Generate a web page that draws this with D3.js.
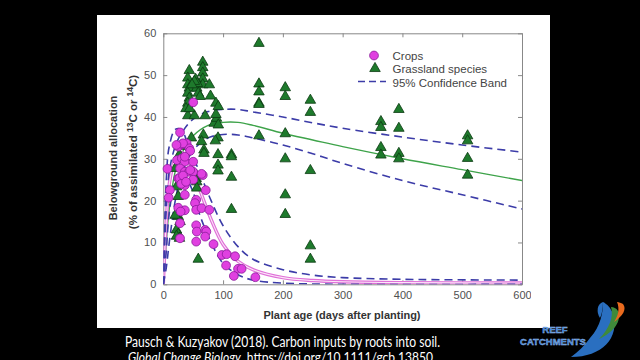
<!DOCTYPE html>
<html><head><meta charset="utf-8">
<script src="https://cdn.jsdelivr.net/npm/d3@7"></script>
<style>
html,body{margin:0;padding:0;background:#000;}
svg{display:block;}
</style></head>
<body>
<svg id="c" width="640" height="360"></svg>
<script>
// ---- data ----
const xTicks = [0,100,200,300,400,500,600];
const yTicks = [0,10,20,30,40,50,60];
const crops = [[7,27.6],[11,22.5],[9,20.7],[28,36.3],[25,32.9],[32,33.5],[39,33.7],[43.5,32.5],[23,29.7],[31,30.1],[36,29.3],[28,27.7],[36,26.9],[43,26.9],[50,26.9],[50,29.3],[66,26.1],[25,25.3],[36,23.7],[36,21.4],[25,18.3],[36,17.7],[29,17.4],[28,14.6],[28,11],[50,43.5],[71,22.5],[55,20.2],[53,19.4],[55,17.8],[64,18.2],[77,17.8],[55,14.1],[56,12.6],[70,13],[72,12.6],[70,11.4],[55,10.2],[84,9.6],[98,7],[106,7.2],[105,4.5],[120,6.7],[125,3.7],[131,3.7],[118,2],[154,1.7],[45,31.9],[33,33.7],[22,33.3],[36,30.5],[27,25.4],[45,27.3],[50,25],[64,26.4],[33,26],[30,24],[38,24.5]];
const grassland = [[20,27.7],[22,23.3],[25,21],[25,16.2],[28,15],[22,13],[25,12],[22,11.5],[27,11],[20,16.5],[27,31],[32,33],
[47,35],[67,35.7],[64,34.1],[68,32.1],[68,31.3],[55,26.1],[55,25.3],[56,24.5],[56,23],[58.5,6],
[91.5,35],[87,34.3],[91.5,31],[91.5,28.5],[91.5,27.1],[114,31],[114,30.5],[114,25.6],[114,17.9],[85,38.5],[89,39.7],[88,40.6],[92,38.1],
[43.5,51.1],[66,53.1],[66,51.8],[66,50.5],[66,49.1],[66,47.7],[41,49.3],[41,47.7],[43.5,46.9],[41,45.7],[43.5,44.5],[41,43.3],[41,40.3],[52,40.3],[56,46.9],[58.5,45.7],[61.4,44.9],[77,47.7],[79,45],[88,43.3],[92,42.5],[70,40.3],[54,49],[57,48],[38,42],[44,42],[52,48.5],[48,47.7],
[160,57.6],[160,47.9],[160,46],[160,43.3],[160,43],[160,35.5],[204,47],[204,44.9],[204,36],[204,30],[204,21.4],[204,16.7],[246,44],[246,41.1],[246,27.2],[246,9.2],[246,6],[364,38.9],[364,37.5],[364,32.7],[364,30.9],[394,41.8],[394,37.3],[394,31.3],[394,30],[509,35.5],[509,34.3],[509,30.1],[509,26.1]];
const cropFit = [[0,0],[5,15],[10,24],[20,30],[30,31.5],[40,30],[50,27],[60,23],[80,15.5],[100,9.5],[125,5.5],[150,3.5],[200,1.6],[250,0.9],[300,0.6],[400,0.4],[600,0.3]];
const cropUpper = [[0,0],[5,25],[10,33],[20,37],[30,37],[40,34],[60,27],[80,20],[100,14],[125,9],[150,6],[200,3.5],[250,2.2],[300,1.6],[400,1.2],[600,1]];
const cropLower = [[0,0],[5,8],[10,17],[20,25],[30,27],[40,25],[50,22],[60,17],[80,10],[100,5],[125,2.3],[150,1],[200,0.3],[300,0],[600,0]];
const grassFit = [[0,0],[5,10],[10,18],[20,27],[30,31],[50,35.5],[75,38],[100,38.7],[125,38.7],[150,38],[200,36.1],[250,34.5],[300,32.9],[400,30],[500,27.4],[600,24.8]];
const grassUpper = [[0,0],[5,18],[10,27],[20,33],[30,36],[50,39.5],[75,41.3],[100,41.8],[125,41.8],[150,41.2],[200,40],[250,38.6],[300,37.3],[400,35.2],[500,33.3],[600,31.6]];
const grassLower = [[0,0],[5,4],[10,10],[20,20],[30,26],[50,32],[75,35],[100,35.8],[125,35.7],[150,35],[200,33.3],[250,31.2],[300,28.9],[400,24.8],[500,21.4],[600,18]];
const legendItems = ["Crops","Grassland species","95% Confidence Band"];

// ---- drawing ----
const svg = d3.select("#c");
svg.append("rect").attr("width",640).attr("height",360).attr("fill","#000");
svg.append("rect").attr("x",97).attr("y",15).attr("width",453).attr("height",313).attr("fill","#fff");

const x = d3.scaleLinear().domain([0,600]).range([163.3,522]);
const y = d3.scaleLinear().domain([0,60]).range([284.3,33.3]);
const font = "'Liberation Sans', Arial, sans-serif";

svg.append("clipPath").attr("id","panel").append("rect").attr("x",97).attr("y",15).attr("width",434).attr("height",313);
svg.append("clipPath").attr("id","plot").append("rect").attr("x",163.3).attr("y",33.3).attr("width",522-163.3).attr("height",284.3-33.3);

const g = svg.append("g").attr("clip-path","url(#panel)");

function styleAxis(sel){
  sel.selectAll("path").attr("stroke","#888").attr("stroke-width",1);
  sel.selectAll("line").attr("stroke","#888");
  sel.selectAll("text").attr("fill","#505050").attr("font-family",font).attr("font-size",11);
}
g.append("g").attr("transform","translate(0,284.3)")
  .call(d3.axisBottom(x).tickValues(xTicks).tickSize(-4).tickPadding(7).tickSizeOuter(0)).call(styleAxis);
g.append("g").attr("transform","translate(163.3,0)")
  .call(d3.axisLeft(y).tickValues(yTicks).tickSize(-4).tickPadding(7).tickSizeOuter(0)).call(styleAxis);
g.append("g").attr("transform","translate(0,33.3)")
  .call(d3.axisTop(x).tickValues(xTicks).tickSize(-4).tickFormat("").tickSizeOuter(0)).call(styleAxis);
g.append("g").attr("transform","translate(522,0)")
  .call(d3.axisRight(y).tickValues(yTicks).tickSize(-4).tickFormat("").tickSizeOuter(0)).call(styleAxis);

const p = g.append("g").attr("clip-path","url(#plot)");
const line = d3.line().x(d=>x(d[0])).y(d=>y(d[1])).curve(d3.curveCatmullRom.alpha(0.5));

p.append("path").datum(grassFit).attr("d",line).attr("fill","none").attr("stroke","#3ea34a").attr("stroke-width",1.4);
p.append("path").datum(cropFit).attr("d",line).attr("fill","none").attr("stroke","#e070d8").attr("stroke-width",3.4);
p.append("path").datum(cropFit).attr("d",line).attr("fill","none").attr("stroke","#fbe6f8").attr("stroke-width",1.1);
[cropUpper,cropLower,grassUpper,grassLower].forEach(b=>{
  p.append("path").datum(b).attr("d",line).attr("fill","none").attr("stroke","#3c3ca8")
   .attr("stroke-width",1.6).attr("stroke-dasharray","8,5");
});

const tri = d3.symbol().type(d3.symbolTriangle).size(48);
g.append("g").selectAll("path").data(grassland).join("path")
  .attr("d",tri).attr("transform",d=>`translate(${x(d[0])},${y(d[1])})`)
  .attr("fill","#1e7a2c").attr("stroke","#0b3a12").attr("stroke-width",0.8);
g.append("g").selectAll("circle").data(crops).join("circle")
  .attr("cx",d=>x(d[0])).attr("cy",d=>y(d[1])).attr("r",4.4)
  .attr("fill","#e040e0").attr("stroke","#8a1c9a").attr("stroke-width",0.8);

// legend
const lg = svg.append("g");
const ly = [56,69.5,83];
lg.append("circle").attr("cx",374).attr("cy",ly[0]-0.5).attr("r",4.4).attr("fill","#e040e0").attr("stroke","#8a1c9a").attr("stroke-width",0.8);
lg.append("path").attr("d",tri).attr("transform",`translate(375,${ly[1]-1})`).attr("fill","#1e7a2c").attr("stroke","#0b3a12").attr("stroke-width",0.8);
lg.append("line").attr("x1",358).attr("x2",386).attr("y1",ly[2]-1.5).attr("y2",ly[2]-1.5).attr("stroke","#3c3ca8").attr("stroke-width",1.6).attr("stroke-dasharray","7,4");
lg.selectAll("text").data(legendItems).join("text")
  .attr("x",392.5).attr("y",(d,i)=>ly[i]+3.5).text(d=>d)
  .attr("font-family",font).attr("font-size",11.5).attr("fill","#444");

// axis titles
svg.append("text").attr("x",342).attr("y",319).attr("text-anchor","middle")
  .attr("font-family",font).attr("font-size",11).attr("font-weight","bold").attr("fill","#333")
  .text("Plant age (days after planting)");
svg.append("text").attr("transform","translate(117,158) rotate(-90)").attr("text-anchor","middle")
  .attr("font-family",font).attr("font-size",11).attr("font-weight","bold").attr("fill","#333")
  .text("Belowground allocation");
const yt2 = svg.append("text").attr("transform","translate(137,152) rotate(-90)").attr("text-anchor","middle")
  .attr("font-family",font).attr("font-size",11.5).attr("font-weight","bold").attr("fill","#333");
yt2.append("tspan").text("(% of assimilated ");
yt2.append("tspan").attr("font-size",8.5).attr("dy",-4.5).text("13");
yt2.append("tspan").attr("dy",4.5).text("C or ");
yt2.append("tspan").attr("font-size",8.5).attr("dy",-4.5).text("14");
yt2.append("tspan").attr("dy",4.5).text("C)");

// caption
svg.append("text").attr("x",125).attr("y",347).attr("font-family","Lato, 'Open Sans', sans-serif").attr("font-size",14.5).attr("fill","#fff")
  .attr("textLength",315).attr("lengthAdjust","spacingAndGlyphs")
  .text("Pausch & Kuzyakov (2018). Carbon inputs by roots into soil.");
const c2 = svg.append("text").attr("x",128).attr("y",362).attr("font-family","Lato, 'Open Sans', sans-serif").attr("font-size",14.3).attr("fill","#fff")
  .attr("textLength",305).attr("lengthAdjust","spacingAndGlyphs");
c2.append("tspan").attr("font-style","italic").text("Global Change Biology");
c2.append("tspan").text(". https://doi.org/10.1111/gcb.13850");

// logo
const logo = svg.append("g");
logo.append("path").attr("d","M571,357 C602,357 620,338 613,314 C611,308 607,304 603,302 C603,312 601,326 590,338 C584,346 578,352 571,357 Z").attr("fill","#2a6fc0");
logo.append("path").attr("d","M603,302 C597,304 596,312 600,318 C602,314 603,308 603,302 Z").attr("fill","#2a6fc0");
logo.append("path").attr("d","M599,339 C614,332 622,321 618,311 C616,308 614,307 611,307 C614,317 609,329 599,339 Z").attr("fill","#3f8a3a");
logo.append("path").attr("d","M614,322 C623,316 627,309 623,304 C621,303 619,302 617,302 C620,309 618,316 614,322 Z").attr("fill","#e86a1e");
logo.selectAll("text").data([["REEF",555,333],["CATCHMENTS",553,344.5]]).join("text")
  .attr("x",d=>d[1]).attr("y",d=>d[2]).attr("text-anchor","middle").attr("font-family",font)
  .attr("font-weight","bold").attr("font-size",9.5).attr("fill","#3478d0")
  .attr("stroke","#9ec0ee").attr("stroke-width",0.4).text(d=>d[0]);
</script>
</body></html>
